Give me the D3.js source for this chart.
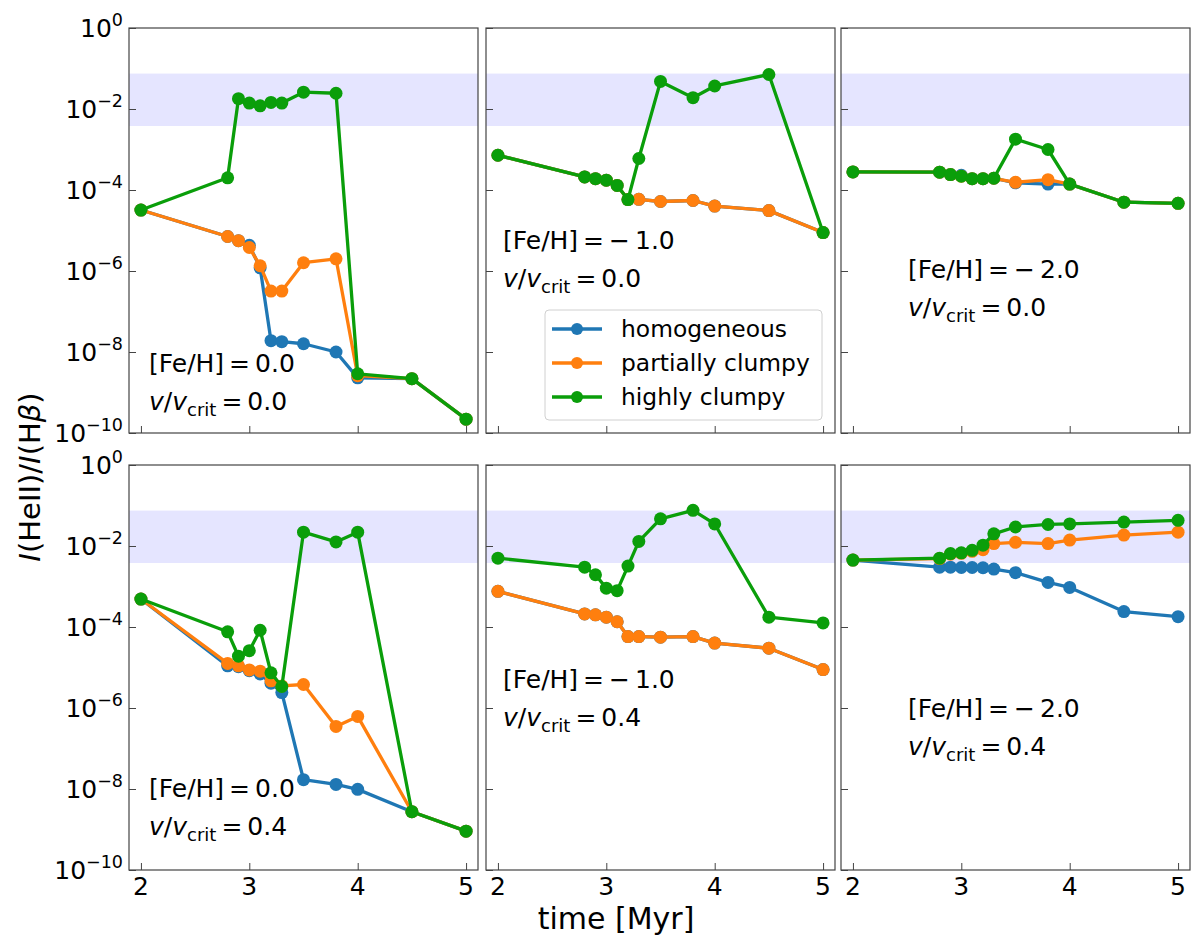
<!DOCTYPE html>
<html lang="en">
<head>
	<meta charset="UTF-8">
	<title>HeII / Hbeta</title>
	<script src="https://d3js.org/d3.v7.min.js"></script>
	<style>
		body { margin: 0; background: #fff; }
		text { font-family: "DejaVu Sans", sans-serif; fill: #000; }
	</style>
</head>
<body>
	<div id="chart"></div>
<script>
	const W = 1200, H = 946;

	// times shared by every panel [Myr]
	const times = [2.0, 2.8, 2.9, 3.0, 3.1, 3.2, 3.3, 3.5, 3.8, 4.0, 4.5, 5.0];
	const seriesNames = ["homogeneous", "partially clumpy", "highly clumpy"];
	const seriesColors = ["#1f77b4", "#ff7f0e", "#0a9e0a"];
	const yTicks = [1, 1e-2, 1e-4, 1e-6, 1e-8, 1e-10];
	const yTickExp = ["0", "\u22122", "\u22124", "\u22126", "\u22128", "\u221210"];
	const xTicks = [2, 3, 4, 5];
	const band = [0.0038, 0.075];

	// [Fe/H] = 0.0, v/vcrit = 0.0
	const fe0_v0_homog   = [3.2e-5, 7.1e-6, 5.6e-6, 4.3e-6, 1.2e-6, 1.9e-8, 1.8e-8, 1.6e-8, 1.0e-8, 2.3e-9, 2.2e-9, 2.2e-10];
	const fe0_v0_partial = [3.2e-5, 7.1e-6, 5.6e-6, 3.8e-6, 1.35e-6, 3.2e-7, 3.2e-7, 1.6e-6, 2.0e-6, 2.6e-9, 2.2e-9, 2.2e-10];
	const fe0_v0_high    = [3.2e-5, 2.0e-4, 1.8e-2, 1.4e-2, 1.2e-2, 1.45e-2, 1.4e-2, 2.6e-2, 2.45e-2, 2.9e-9, 2.2e-9, 2.2e-10];
	// [Fe/H] = -1.0, v/vcrit = 0.0
	const fe1_v0_homog   = [7.2e-4, 2.1e-4, 1.9e-4, 1.75e-4, 1.3e-4, 5.8e-5, 5.9e-5, 5.2e-5, 5.5e-5, 4.0e-5, 3.1e-5, 8.9e-6];
	const fe1_v0_partial = [7.2e-4, 2.1e-4, 1.9e-4, 1.75e-4, 1.3e-4, 5.8e-5, 5.9e-5, 5.2e-5, 5.5e-5, 4.0e-5, 3.1e-5, 8.9e-6];
	const fe1_v0_high    = [7.2e-4, 2.1e-4, 1.9e-4, 1.75e-4, 1.3e-4, 5.8e-5, 6.0e-4, 4.8e-2, 1.9e-2, 3.7e-2, 7.1e-2, 8.9e-6];
	// [Fe/H] = -2.0, v/vcrit = 0.0
	const fe2_v0_homog   = [2.8e-4, 2.75e-4, 2.4e-4, 2.3e-4, 1.9e-4, 1.9e-4, 1.95e-4, 1.5e-4, 1.4e-4, 1.4e-4, 5.0e-5, 4.7e-5];
	const fe2_v0_partial = [2.8e-4, 2.75e-4, 2.4e-4, 2.2e-4, 1.9e-4, 1.9e-4, 1.95e-4, 1.55e-4, 1.8e-4, 1.4e-4, 5.0e-5, 4.7e-5];
	const fe2_v0_high    = [2.8e-4, 2.75e-4, 2.4e-4, 2.2e-4, 1.9e-4, 1.9e-4, 1.95e-4, 1.8e-3, 1.0e-3, 1.4e-4, 5.0e-5, 4.7e-5];
	// [Fe/H] = 0.0, v/vcrit = 0.4
	const fe0_v4_homog   = [4.9e-4, 1.1e-5, 1.05e-5, 8.3e-6, 6.9e-6, 4.1e-6, 2.4e-6, 1.7e-8, 1.3e-8, 9.8e-9, 2.75e-9, 9.1e-10];
	const fe0_v4_partial = [4.9e-4, 1.26e-5, 1.1e-5, 8.7e-6, 8.1e-6, 4.7e-6, 3.5e-6, 3.8e-6, 3.5e-7, 6.2e-7, 2.75e-9, 9.1e-10];
	const fe0_v4_high    = [4.9e-4, 7.6e-5, 1.9e-5, 2.6e-5, 8.3e-5, 7.4e-6, 3.4e-6, 2.2e-2, 1.26e-2, 2.2e-2, 2.75e-9, 9.1e-10];
	// [Fe/H] = -1.0, v/vcrit = 0.4
	const fe1_v4_homog   = [7.6e-4, 2.1e-4, 2.0e-4, 1.75e-4, 1.35e-4, 5.8e-5, 5.8e-5, 5.6e-5, 5.8e-5, 4.0e-5, 3.0e-5, 8.9e-6];
	const fe1_v4_partial = [7.6e-4, 2.1e-4, 2.0e-4, 1.75e-4, 1.35e-4, 5.8e-5, 5.8e-5, 5.6e-5, 5.8e-5, 4.0e-5, 3.0e-5, 8.9e-6];
	const fe1_v4_high    = [5.0e-3, 3.0e-3, 1.95e-3, 9.1e-4, 7.9e-4, 3.2e-3, 1.3e-2, 4.7e-2, 7.6e-2, 3.5e-2, 1.75e-4, 1.26e-4];
	// [Fe/H] = -2.0, v/vcrit = 0.4
	const fe2_v4_homog   = [4.5e-3, 3.0e-3, 3.0e-3, 2.95e-3, 2.95e-3, 2.9e-3, 2.7e-3, 2.2e-3, 1.26e-3, 9.5e-4, 2.4e-4, 1.8e-4];
	const fe2_v4_partial = [4.5e-3, 4.9e-3, 6.3e-3, 6.6e-3, 7.4e-3, 8.1e-3, 1.15e-2, 1.23e-2, 1.15e-2, 1.4e-2, 1.86e-2, 2.2e-2];
	const fe2_v4_high    = [4.5e-3, 5.0e-3, 6.5e-3, 6.8e-3, 7.8e-3, 1.05e-2, 2.0e-2, 2.95e-2, 3.4e-2, 3.5e-2, 3.9e-2, 4.3e-2];

	const fehLabels = ["0.0", "\u2212\u20091.0", "\u2212\u20092.0"];
	const vLabels = ["0.0", "0.4"];

	// panel geometry
	const colX = [129, 486, 841], rowY = [28, 465];
	const pw = 349, ph = 405;
	const labelPos = [[20, 344], [17, 221], [67, 250], [20, 332], [17, 223], [67, 252]];

	const panels = [
		{row: 0, col: 0, data: [fe0_v0_homog, fe0_v0_partial, fe0_v0_high]},
		{row: 0, col: 1, data: [fe1_v0_homog, fe1_v0_partial, fe1_v0_high]},
		{row: 0, col: 2, data: [fe2_v0_homog, fe2_v0_partial, fe2_v0_high]},
		{row: 1, col: 0, data: [fe0_v4_homog, fe0_v4_partial, fe0_v4_high]},
		{row: 1, col: 1, data: [fe1_v4_homog, fe1_v4_partial, fe1_v4_high]},
		{row: 1, col: 2, data: [fe2_v4_homog, fe2_v4_partial, fe2_v4_high]}
	];

	const svg = d3.select("#chart")
		.append("svg")
			.attr("width", W)
			.attr("height", H);

	const x = d3.scaleLinear().domain([1.89, 5.11]).range([0, pw]);
	const y = d3.scaleLog().domain([1e-10, 1]).range([ph, 0]);

	panels.forEach(function(p, k) {
		const g = svg.append("g")
			.attr("transform", `translate(${colX[p.col]}, ${rowY[p.row]})`);

		// observed range
		g.append("rect")
			.attr("x", 0)
			.attr("width", pw)
			.attr("y", y(band[1]))
			.attr("height", y(band[0]) - y(band[1]))
			.attr("fill", "#0000ff")
			.attr("fill-opacity", 0.1);

		// inward ticks
		const yAx = g.append("g")
			.call(d3.axisLeft(y).tickValues(yTicks).tickFormat("").tickSizeInner(-7).tickSizeOuter(0));
		const xAx = g.append("g")
			.attr("transform", `translate(0, ${ph})`)
			.call(d3.axisBottom(x).tickValues(xTicks).tickFormat("").tickSizeInner(-7).tickSizeOuter(0));
		[yAx, xAx].forEach(a => {
			a.select(".domain").remove();
			a.selectAll("line").attr("stroke", "#444").attr("stroke-width", 1);
		});

		if (p.col === 0) {
			yTicks.forEach(function(t, i) {
				const lab = g.append("text")
					.attr("x", -6)
					.attr("y", y(t) + 9)
					.attr("text-anchor", "end")
					.style("font-size", "25px");
				lab.append("tspan").text("10");
				lab.append("tspan").attr("dy", -11).style("font-size", "17.5px").text(yTickExp[i]);
			});
		}
		if (p.row === 1) {
			g.selectAll("text.xtick")
				.data(xTicks)
				.join("text")
				.attr("class", "xtick")
				.attr("x", d => x(d))
				.attr("y", ph + 25)
				.attr("text-anchor", "middle")
				.style("font-size", "25px")
				.text(d => d);
		}

		const line = d3.line()
			.x((d, i) => x(times[i]))
			.y(d => y(d));

		p.data.forEach(function(vals, s) {
			g.append("path")
				.datum(vals)
				.attr("d", line)
				.attr("fill", "none")
				.attr("stroke", seriesColors[s])
				.attr("stroke-width", 3.3)
				.attr("stroke-linejoin", "round");
			g.selectAll(null)
				.data(vals)
				.join("circle")
				.attr("cx", (d, i) => x(times[i]))
				.attr("cy", d => y(d))
				.attr("r", 6.5)
				.attr("fill", seriesColors[s]);
		});

		// frame
		g.append("rect")
			.attr("width", pw)
			.attr("height", ph)
			.attr("fill", "none")
			.attr("stroke", "#444")
			.attr("stroke-width", 1.2);

		// panel annotation
		const lp = labelPos[k];
		g.append("text")
			.attr("x", lp[0])
			.attr("y", lp[1])
			.style("font-size", "25px")
			.style("white-space", "pre")
			.text(`[Fe/H]\u2009=\u2009${fehLabels[p.col]}`);
		const vt = g.append("text")
			.attr("x", lp[0])
			.attr("y", lp[1] + 38)
			.style("font-size", "25px");
		vt.append("tspan").style("font-style", "italic").text("v");
		vt.append("tspan").text("/");
		vt.append("tspan").style("font-style", "italic").text("v");
		vt.append("tspan").attr("dy", 6).style("font-size", "18px").text("crit");
		vt.append("tspan").attr("dy", -6).text(`\u2009=\u2009${vLabels[p.row]}`);

		// legend in the middle top panel
		if (k === 1) {
			const lg = g.append("g").attr("transform", `translate(${545 - colX[1]}, ${310 - rowY[0]})`);
			lg.append("rect")
				.attr("width", 277)
				.attr("height", 110)
				.attr("rx", 4)
				.attr("fill", "#fff")
				.attr("fill-opacity", 0.8)
				.attr("stroke", "#d0d0d0");
			seriesNames.forEach(function(name, s) {
				const yy = 19 + s * 34;
				lg.append("line")
					.attr("x1", 7).attr("x2", 57)
					.attr("y1", yy).attr("y2", yy)
					.attr("stroke", seriesColors[s])
					.attr("stroke-width", 3.3);
				lg.append("circle")
					.attr("cx", 32).attr("cy", yy)
					.attr("r", 6)
					.attr("fill", seriesColors[s]);
				lg.append("text")
					.attr("x", 76)
					.attr("y", yy + 8)
					.style("font-size", "23.4px")
					.text(name);
			});
		}
	});

	// axis titles
	svg.append("text")
		.attr("x", 616)
		.attr("y", 929)
		.attr("text-anchor", "middle")
		.style("font-size", "30px")
		.text("time [Myr]");

	const yl = svg.append("text")
		.attr("transform", "translate(40, 477) rotate(-90)")
		.attr("text-anchor", "middle")
		.style("font-size", "29px");
	yl.append("tspan").style("font-style", "italic").text("I");
	yl.append("tspan").text("(HeII)/");
	yl.append("tspan").style("font-style", "italic").text("I");
	yl.append("tspan").text("(H");
	yl.append("tspan").style("font-style", "italic").text("\u03b2");
	yl.append("tspan").text(")");
</script>
</body>
</html>
